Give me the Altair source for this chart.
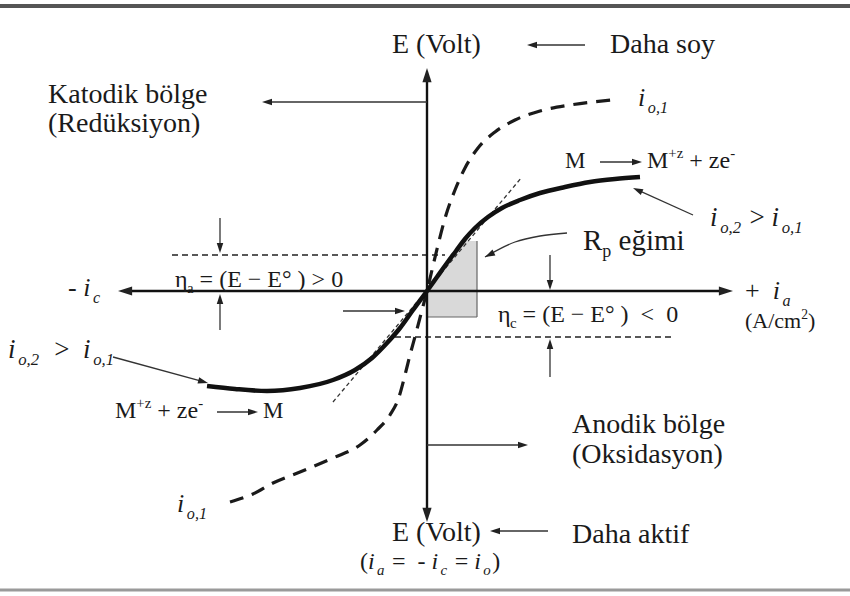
import math
import altair as alt
import pandas as pd

# ---------------------------------------------------------------------------
# Polarization diagram: current density i (x) against potential E (y),
# origin at the equilibrium potential E°. Units are arbitrary.
# ---------------------------------------------------------------------------

# steady polarization curve (solid, i_o,2)
solid_i = [-220, -192, -160, -127, -94, -72, -55, -40, -27, -14, 0, 10, 20, 29,
           38, 48, 61, 75, 93, 113, 138, 163, 188, 213]
solid_E = [-95, -98, -100, -97, -89, -79, -67, -52, -37, -19, 0, 14, 28, 40,
           52, 63, 74, 83, 91, 98, 104, 109, 112, 114]

# steeper polarization curve (dashed, i_o,1)
dash_i = [-197, -174, -154, -127, -94, -67, -50, -37, -28, -22, -17, -11, -5, 0,
          5, 11, 19, 28, 38, 51, 68, 88, 113, 143, 185]
dash_E = [-211, -203, -192, -181, -167, -154, -139, -124, -106, -84, -64, -42, -19, 0,
          21, 46, 76, 101, 123, 143, 159, 171, 180, 186, 191]

# linear-polarization tangent through the origin (R_p slope)
tangent_i = [-94, 95]
tangent_E = [-111, 114]

# overpotential levels
eta_a_E, eta_a_span = 36, [-255, 18]
eta_c_E, eta_c_span = -46, [-32, 248]

# shaded R_p region
shade_i = [0, 10, 20, 29, 36, 50]
shade_top = [0, 14, 28, 40, 50, 50]
shade_bottom = -26

# axes: (tail i, tail E, tip i, tip E)
axis_arrows = [(0, 0, -309, 0), (0, 0, 306, 0), (0, 0, 0, 223), (0, 0, 0, -231)]

# thin pointer arrows: (tail i, tail E, tip i, tip E)
pointer_arrows = [
    (0, 189, -165, 189),        # Katodik bölge
    (0, -154, 101, -154),       # Anodik bölge
    (158, 246, 100, 246),       # Daha soy
    (121, -240, 63, -240),      # Daha aktif
    (-207, 73, -207, 38),       # eta_a, from above
    (-207, -39, -207, -3),      # eta_a, from below
    (123, 36, 123, 1),          # eta_c, from above
    (123, -86, 123, -48),       # eta_c, from below
    (-84, -20, -22, -20),       # pointer at origin
    (173, 129, 215, 129),       # M -> M+z
    (-210, -121, -169, -121),   # M+z -> M
    (266, 76, 206, 103),        # i_o,2 > i_o,1 (right)
    (-314, -66, -219, -92),     # i_o,2 > i_o,1 (left)
]

# curved pointer from the R_p label
rp_i = [140, 113, 88, 58]
rp_E = [58, 55, 49, 34]

# text labels: (left i, baseline E, font size, runs)
BIG = 28
LABELS = [
    (-35, 238, BIG, [("E (Volt)", "r")]),
    (183, 238, BIG, [("Daha soy", "r")]),
    (-379, 188, BIG, [("Katodik bölge", "r")]),
    (-379, 159, BIG, [("(Redüksiyon)", "r")]),
    (145, -142, BIG, [("Anodik bölge", "r")]),
    (145, -172, BIG, [("(Oksidasyon)", "r")]),
    (-35, -250, BIG, [("E (Volt)", "r")]),
    (145, -252, BIG, [("Daha aktif", "r")]),
    (-67, -278, 24, [("(", "r"), ("i", "i"), ("a", "sub"), (" =", "r"), ("  -", "r"),
                     (" i", "i"), ("c", "sub"), (" =", "r"), (" i", "i"), ("o", "sub"),
                     (")", "r")]),
    (156, 41, 29, [("R", "r"), ("p", "subr"), (" eğimi", "r")]),
    (-252, 4, 24, [("η", "r"), ("a", "subr"), (" = (E − E°", "r"), (" ) > 0", "r")]),
    (71, -31, 24, [("η", "r"), ("c", "subr"), (" = (E − E°", "r"), (" )", "r"),
                   ("  <", "r"), ("  0", "r")]),
    (-359, -5, 26, [("- ", "r"), ("i", "i"), ("c", "sub")]),
    (318, -8, 26, [("+  ", "r"), ("i", "i"), ("a", "sub")]),
    (318, -37, 22, [("(A/cm", "r"), ("2", "sup"), (")", "r")]),
    (211, 185, 26, [("i", "i"), ("o,1", "sub")]),
    (138, 123, 23, [("M", "r")]),
    (220, 123, 24, [("M", "r"), ("+z", "sup"), (" + ze", "r"), ("-", "sup")]),
    (283, 65, 27, [("i", "i"), ("o,2", "sub"), (" > ", "r"), ("i", "i"), ("o,1", "sub")]),
    (-419, -67, 27, [("i", "i"), ("o,2", "sub"), ("  >  ", "r"), ("i", "i"), ("o,1", "sub")]),
    (-312, -127, 24, [("M", "r"), ("+z", "sup"), (" + ze", "r"), ("-", "sup")]),
    (-164, -127, 23, [("M", "r")]),
    (-250, -221, 26, [("i", "i"), ("o,1", "sub")]),
]

# ---------------------------------------------------------------------------
# helpers
# ---------------------------------------------------------------------------
W_ROMAN = {' ': 250, '(': 333, ')': 333, '=': 564, '>': 564, '<': 564, '−': 564,
           '-': 333, '+': 564, '0': 500, '1': 500, '2': 500, 'E': 611, 'M': 889,
           'R': 667, 'z': 444, 'e': 444, '°': 400, 'η': 500, 'a': 444, 'c': 444,
           'o': 500, 'p': 500, ',': 250, '/': 278, 'A': 722, 'm': 778}
W_ITALIC = {'i': 278, 'o': 500, 'a': 500, 'c': 444, ',': 250, '1': 500, '2': 500}


def text_width(s, size, italic):
    table = W_ITALIC if italic else W_ROMAN
    return sum(table.get(ch, 500) for ch in s) * size / 1000.0


text_rows = []
for x0, y0, size, runs in LABELS:
    x = x0
    for txt, role in runs:
        italic = role in ("i", "sub")
        if role in ("sub", "subr"):
            sz, dy = size * 0.62, -0.25 * size
        elif role == "sup":
            sz, dy = size * 0.62, 0.42 * size
        else:
            sz, dy = size, 0.0
        lead = len(txt) - len(txt.lstrip(" "))
        trail = len(txt) - len(txt.rstrip(" "))
        core = txt.strip(" ")
        x += lead * 250 * sz / 1000.0
        if core:
            text_rows.append(dict(x=x, y=y0 + dy, t=core, s=sz, it=italic))
            x += text_width(core, sz, italic)
            if italic:
                x += 0.1 * sz          # room for the italic overhang
            x += trail * 250 * sz / 1000.0
text_df = pd.DataFrame(text_rows)


def arrow_frames(arrows, head_len, width, color):
    shafts, heads = [], []
    for x1, y1, x2, y2 in arrows:
        dx, dy = x2 - x1, y2 - y1
        n = math.hypot(dx, dy)
        ux, uy = dx / n, dy / n
        shafts.append(dict(x=x1, y=y1, x2=x2 - ux * head_len * 0.6,
                           y2=y2 - uy * head_len * 0.6, w=width, c=color))
        heads.append(dict(x=x2, y=y2, ang=math.degrees(math.atan2(dx, dy)) % 360))
    return shafts, heads


ax_shafts, ax_heads = arrow_frames(axis_arrows, 14, 2.4, "#111111")
pt_shafts, pt_heads = arrow_frames(pointer_arrows, 10, 1.3, "#333333")
_, rp_head = arrow_frames([(rp_i[-2], rp_E[-2], rp_i[-1], rp_E[-1])], 10, 1.3, "#333333")

for h in ax_heads:
    h["s"] = 200
for h in pt_heads + rp_head:
    h["s"] = 100

segments = pd.DataFrame(
    [dict(x=-427, y=285, x2=423, y2=285, w=4, c="#555555"),
     dict(x=-427, y=-299, x2=423, y2=-299, w=3, c="#9a9a9a"),
     dict(x=50, y=shade_bottom, x2=50, y2=50, w=1.2, c="#666666"),
     dict(x=0, y=shade_bottom, x2=50, y2=shade_bottom, w=1.2, c="#666666")]
    + ax_shafts + pt_shafts)
heads = pd.DataFrame(ax_heads + pt_heads + rp_head)

guides = pd.DataFrame([
    dict(x=eta_a_span[0], x2=eta_a_span[1], y=eta_a_E),
    dict(x=eta_c_span[0], x2=eta_c_span[1], y=eta_c_E),
])

solid_df = pd.DataFrame(dict(x=solid_i, y=solid_E, k=range(len(solid_i))))
dash_df = pd.DataFrame(dict(x=dash_i, y=dash_E, k=range(len(dash_i))))
tan_df = pd.DataFrame(dict(x=tangent_i, y=tangent_E, k=range(2)))
rp_df = pd.DataFrame(dict(x=rp_i, y=rp_E, k=range(len(rp_i))))
shade_df = pd.DataFrame(dict(x=shade_i, y=shade_top, lo=[shade_bottom] * len(shade_i)))

# ---------------------------------------------------------------------------
# chart
# ---------------------------------------------------------------------------
xs = alt.Scale(domain=[-427, 423], nice=False, zero=False)
ys = alt.Scale(domain=[-305, 291], nice=False, zero=False)
X = alt.X("x:Q", scale=xs, axis=None)
Y = alt.Y("y:Q", scale=ys, axis=None)

shade = alt.Chart(shade_df).mark_area(color="#d9d9d9", opacity=1).encode(
    x=X, y=Y, y2="lo:Q")

guide_lines = alt.Chart(guides).mark_rule(
    strokeDash=[6, 4], strokeWidth=1.5, color="#222222").encode(x=X, x2="x2:Q", y=Y)

tangent = alt.Chart(tan_df).mark_line(
    strokeDash=[4, 3], strokeWidth=1.3, color="#333333").encode(x=X, y=Y, order="k:Q")

dashed_curve = alt.Chart(dash_df).mark_line(
    strokeDash=[14, 9], strokeWidth=3.2, color="#1a1a1a", interpolate="monotone"
).encode(x=X, y=Y, order="k:Q")

solid_curve = alt.Chart(solid_df).mark_line(
    strokeWidth=4.5, color="#111111", interpolate="monotone"
).encode(x=X, y=Y, order="k:Q")

rp_curve = alt.Chart(rp_df).mark_line(
    strokeWidth=1.3, color="#333333", interpolate="monotone"
).encode(x=X, y=Y, order="k:Q")

seg_layer = alt.Chart(segments).mark_rule().encode(
    x=X, y=Y, x2="x2:Q", y2="y2:Q",
    strokeWidth=alt.StrokeWidth("w:Q", scale=None),
    color=alt.Color("c:N", scale=None))

head_layer = alt.Chart(heads).mark_point(
    shape="M0,0L-0.65,2L0.65,2Z", filled=True, opacity=1, color="#222222",
    strokeWidth=0).encode(
    x=X, y=Y,
    angle=alt.Angle("ang:Q", scale=None),
    size=alt.Size("s:Q", scale=None))

text_normal = alt.Chart(text_df[~text_df["it"]]).mark_text(
    align="left", baseline="alphabetic", font="Liberation Serif",
    color="#1a1a1a").encode(
    x=X, y=Y, text="t:N", size=alt.Size("s:Q", scale=None))

text_italic = alt.Chart(text_df[text_df["it"]]).mark_text(
    align="left", baseline="alphabetic", font="Liberation Serif",
    fontStyle="italic", color="#1a1a1a").encode(
    x=X, y=Y, text="t:N", size=alt.Size("s:Q", scale=None))

chart = alt.layer(
    shade, guide_lines, tangent, dashed_curve, solid_curve, rp_curve,
    seg_layer, head_layer, text_normal, text_italic
).properties(
    width=850, height=596, padding=0, autosize=alt.AutoSizeParams(type="none"),
    background="white"
).configure_view(strokeWidth=0)

chart.save("out.html", embed_options={"renderer": "svg", "actions": False})
